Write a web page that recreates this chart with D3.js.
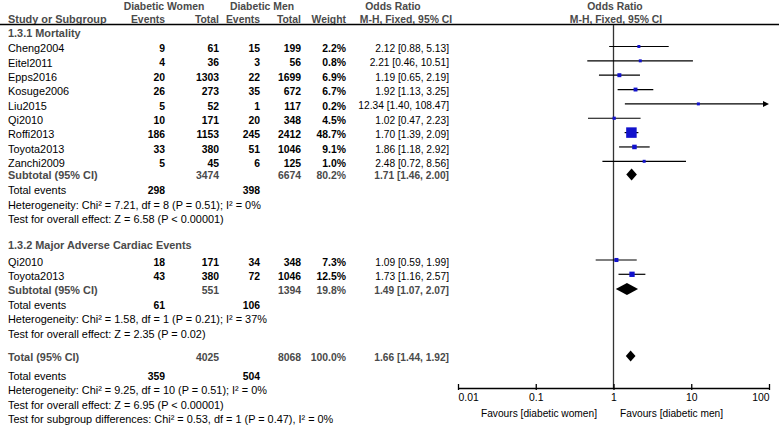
<!DOCTYPE html>
<html><head><meta charset="utf-8">
<script src="https://cdn.jsdelivr.net/npm/d3@7"></script>
<style>
body{margin:0;background:#fff;}
svg{display:block;font-family:"Liberation Sans",Arial,sans-serif;font-size:10px;}
</style></head><body>
<svg id="c" width="779" height="427"></svg>
<script>
// ---- data ----
const studies1 = ["Cheng2004","Eitel2011","Epps2016","Kosuge2006","Liu2015","Qi2010","Roffi2013","Toyota2013","Zanchi2009"];
const womenEvents1 = [9,4,20,26,5,10,186,33,5];
const womenTotal1 = [61,36,1303,273,52,171,1153,380,45];
const menEvents1 = [15,3,22,35,1,20,245,51,6];
const menTotal1 = [199,56,1699,672,117,348,2412,1046,125];
const weight1 = [2.2,0.8,6.9,6.7,0.2,4.5,48.7,9.1,1.0];
const or1 = [2.12,2.21,1.19,1.92,12.34,1.02,1.70,1.86,2.48];
const lo1 = [0.88,0.46,0.65,1.13,1.40,0.47,1.39,1.18,0.72];
const hi1 = [5.13,10.51,2.19,3.25,108.47,2.23,2.09,2.92,8.56];

const studies2 = ["Qi2010","Toyota2013"];
const womenEvents2 = [18,43];
const womenTotal2 = [171,380];
const menEvents2 = [34,72];
const menTotal2 = [348,1046];
const weight2 = [7.3,12.5];
const or2 = [1.09,1.73];
const lo2 = [0.59,1.16];
const hi2 = [1.99,2.57];

const subtotalLabels = ["Subtotal (95% CI)","Subtotal (95% CI)","Total (95% CI)"];
const subtotalWomenTotal = [3474,551,4025];
const subtotalMenTotal = [6674,1394,8068];
const subtotalWeight = [80.2,19.8,100.0];
const subtotalOR = [1.71,1.49,1.66];
const subtotalLo = [1.46,1.07,1.44];
const subtotalHi = [2.00,2.07,1.92];
const totalEventsWomen = [298,61,359];
const totalEventsMen = [398,106,504];
const heterogeneity = [
  "Heterogeneity: Chi\u00b2 = 7.21, df = 8 (P = 0.51); I\u00b2 = 0%",
  "Heterogeneity: Chi\u00b2 = 1.58, df = 1 (P = 0.21); I\u00b2 = 37%",
  "Heterogeneity: Chi\u00b2 = 9.25, df = 10 (P = 0.51); I\u00b2 = 0%"];
const overallEffect = [
  "Test for overall effect: Z = 6.58 (P < 0.00001)",
  "Test for overall effect: Z = 2.35 (P = 0.02)",
  "Test for overall effect: Z = 6.95 (P < 0.00001)"];
const subgroupLabels = ["1.3.1 Mortality","1.3.2 Major Adverse Cardiac Events"];
const subgroupTest = "Test for subgroup differences: Chi\u00b2 = 0.53, df = 1 (P = 0.47), I\u00b2 = 0%";
const tickValues = [0.01,0.1,1,10,100];
const tickLabels = ["0.01","0.1","1","10","100"];
const favoursLeft = "Favours [diabetic women]";
const favoursRight = "Favours [diabetic men]";

// ---- layout ----
const svg = d3.select("#c");
const x = d3.scaleLog().domain([0.01,100]).range([458,769]);
const colX = {study:8, we:165, wt:219, me:260, mt:301, w:346, or:449};
const axisY = 388;
const gray = "#4a4a4a";
const blue = "#1212cc";
const fmt2 = d3.format(".2f");
const fmtW = d3.format(".1f");
const ciText = (o,l,h)=>`${fmt2(o)} [${fmt2(l)}, ${fmt2(h)}]`;
const LEFT = 10.9;

function txt(xp,y,s,opt={}){
  return svg.append("text").attr("x",xp).attr("y",y).attr("dy","0.35em")
    .attr("text-anchor",opt.anchor||"start")
    .attr("font-weight",opt.bold?"bold":"normal")
    .attr("font-size",opt.size||10)
    .attr("fill",opt.fill||"#000").text(s);
}

// headers
txt(164,6,"Diabetic Women",{anchor:"middle",bold:true,fill:gray,size:10.4});
txt(262,6,"Diabetic Men",{anchor:"middle",bold:true,fill:gray,size:10.4});
txt(393,6,"Odds Ratio",{anchor:"middle",bold:true,fill:gray,size:10.4});
txt(615,6,"Odds Ratio",{anchor:"middle",bold:true,fill:gray,size:10.4});
txt(colX.study,19,"Study or Subgroup",{bold:true,fill:gray,size:LEFT});
txt(colX.we,19,"Events",{anchor:"end",bold:true,fill:gray,size:10.4});
txt(colX.wt,19,"Total",{anchor:"end",bold:true,fill:gray,size:10.4});
txt(colX.me,19,"Events",{anchor:"end",bold:true,fill:gray,size:10.4});
txt(colX.mt,19,"Total",{anchor:"end",bold:true,fill:gray,size:10.4});
txt(colX.w,19,"Weight",{anchor:"end",bold:true,fill:gray,size:10.4});
txt(406,19,"M-H, Fixed, 95% CI",{anchor:"middle",bold:true,fill:gray,size:10.4});
txt(616,19,"M-H, Fixed, 95% CI",{anchor:"middle",bold:true,fill:gray,size:10.4});
svg.append("line").attr("x1",0).attr("x2",779).attr("y1",24.5).attr("y2",24.5)
  .attr("stroke","#000").attr("stroke-width",1.4);

// vertical null line
svg.append("line").attr("x1",x(1)).attr("x2",x(1)).attr("y1",25).attr("y2",axisY)
  .attr("stroke","#333").attr("stroke-width",1.3);

const groups = [
  {label:subgroupLabels[0], hy:33, rows:studies1.map((s,i)=>({s,we:womenEvents1[i],wt:womenTotal1[i],me:menEvents1[i],mt:menTotal1[i],w:weight1[i],o:or1[i],l:lo1[i],h:hi1[i]})), y0:48.5, step:14.35, sub:175.5},
  {label:subgroupLabels[1], hy:245, rows:studies2.map((s,i)=>({s,we:womenEvents2[i],wt:womenTotal2[i],me:menEvents2[i],mt:menTotal2[i],w:weight2[i],o:or2[i],l:lo2[i],h:hi2[i]})), y0:262, step:14.3, sub:290}
];
const maxW = d3.max(weight1.concat(weight2));
const sz = d3.scaleSqrt().domain([0,maxW]).range([0,10.5]);

function diamond(k,y,hh){
  const p=[[x(subtotalLo[k]),y],[x(subtotalOR[k]),y-hh],[x(subtotalHi[k]),y],[x(subtotalOR[k]),y+hh]];
  svg.append("path").attr("d","M"+p.join("L")+"Z").attr("fill","#000");
}

function footer(k,y0){
  txt(colX.study,y0,"Total events",{size:LEFT});
  txt(colX.we,y0,totalEventsWomen[k],{anchor:"end",bold:true,size:10.4});
  txt(colX.me,y0,totalEventsMen[k],{anchor:"end",bold:true,size:10.4});
  txt(colX.study,y0+14.5,heterogeneity[k],{size:LEFT});
  txt(colX.study,y0+28.8,overallEffect[k],{size:LEFT});
}

groups.forEach((g,gi)=>{
  txt(colX.study,g.hy,g.label,{bold:true,fill:gray,size:LEFT});
  g.rows.forEach((r,i)=>{
    const y = g.y0 + i*g.step;
    txt(colX.study,y,r.s,{size:LEFT});
    txt(colX.we,y,r.we,{anchor:"end",bold:true,size:10.4});
    txt(colX.wt,y,r.wt,{anchor:"end",bold:true,size:10.4});
    txt(colX.me,y,r.me,{anchor:"end",bold:true,size:10.4});
    txt(colX.mt,y,r.mt,{anchor:"end",bold:true,size:10.4});
    txt(colX.w,y,fmtW(r.w)+"%",{anchor:"end",bold:true,size:10.4});
    txt(colX.or,y,ciText(r.o,r.l,r.h),{anchor:"end",size:10.2});
    const my = y-2;
    const hiC = Math.min(r.h,100);
    svg.append("line").attr("x1",x(Math.max(r.l,0.01))).attr("x2",r.h>100?x(100)-5:x(hiC))
      .attr("y1",my).attr("y2",my).attr("stroke","#000").attr("stroke-width",1.2);
    if(r.h>100){
      svg.append("path").attr("d",`M${x(100)},${my}L${x(100)-6},${my-3}L${x(100)-6},${my+3}Z`).attr("fill","#000");
    }
    const s = Math.max(3,sz(r.w));
    svg.append("rect").attr("x",x(r.o)-s/2).attr("y",my-s/2).attr("width",s).attr("height",s).attr("fill",blue);
  });
  const sy = g.sub;
  txt(colX.study,sy,subtotalLabels[gi],{bold:true,fill:gray,size:LEFT});
  txt(colX.wt,sy,subtotalWomenTotal[gi],{anchor:"end",bold:true,fill:gray,size:10.4});
  txt(colX.mt,sy,subtotalMenTotal[gi],{anchor:"end",bold:true,fill:gray,size:10.4});
  txt(colX.w,sy,fmtW(subtotalWeight[gi])+"%",{anchor:"end",bold:true,fill:gray,size:10.4});
  txt(colX.or,sy,ciText(subtotalOR[gi],subtotalLo[gi],subtotalHi[gi]),{anchor:"end",bold:true,fill:gray,size:10.2});
  diamond(gi,sy-1,6);
  footer(gi,sy+15);
});

// overall total
const ty = 357;
txt(colX.study,ty,subtotalLabels[2],{bold:true,fill:gray,size:LEFT});
txt(colX.wt,ty,subtotalWomenTotal[2],{anchor:"end",bold:true,fill:gray,size:10.4});
txt(colX.mt,ty,subtotalMenTotal[2],{anchor:"end",bold:true,fill:gray,size:10.4});
txt(colX.w,ty,fmtW(subtotalWeight[2])+"%",{anchor:"end",bold:true,fill:gray,size:10.4});
txt(colX.or,ty,ciText(subtotalOR[2],subtotalLo[2],subtotalHi[2]),{anchor:"end",bold:true,fill:gray,size:10.2});
diamond(2,ty-1,5.5);
footer(2,376);
txt(colX.study,419.5,subgroupTest,{size:LEFT});

// axis
const ax = svg.append("g").attr("transform",`translate(0,${axisY})`)
  .call(d3.axisBottom(x).tickValues(tickValues).tickFormat((d,i)=>tickLabels[i]).tickSizeInner(-5).tickSizeOuter(0).tickPadding(6));
ax.select(".domain").attr("stroke","#000").attr("stroke-width",1.3);
ax.selectAll(".tick line").attr("stroke","#000").attr("stroke-width",1.3).attr("y2",-4).attr("y1",2);
ax.selectAll(".tick text").attr("font-size",10.4).attr("font-family","Liberation Sans, Arial, sans-serif").attr("fill","#000")
  .attr("text-anchor",(d,i)=>i===0?"start":(i===tickValues.length-1?"end":"middle"));
txt(597,413,favoursLeft,{anchor:"end",size:10.2});
txt(620,413,favoursRight,{anchor:"start",size:10.2});
</script>
</body></html>
